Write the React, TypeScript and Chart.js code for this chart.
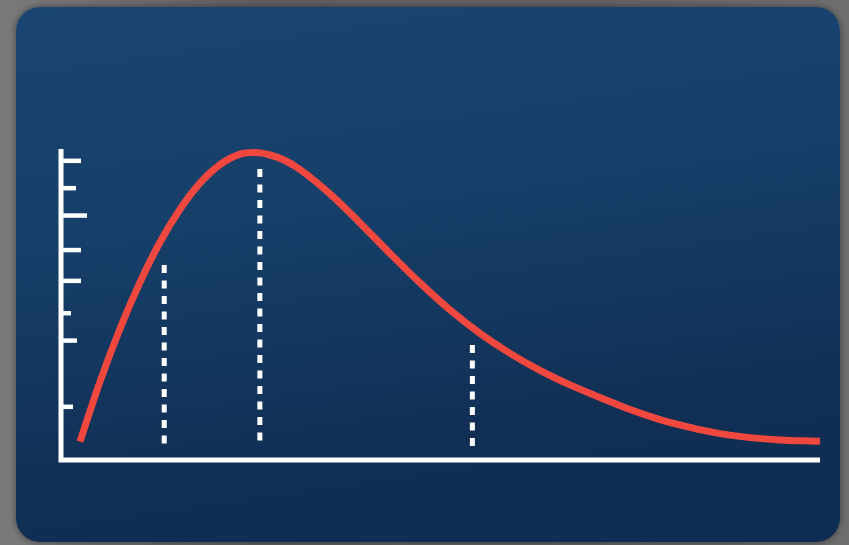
import React, { useEffect, useRef } from "react";
import { Chart, registerables } from "chart.js";

Chart.register(...registerables);

// Skewed distribution curve (x: 0-100 along the axis, y: 0-100 up the axis)
const curveX = [2.5, 5.14, 7.77, 10.41, 13.04, 15.68, 18.31, 20.95, 23.58, 25.56, 27.54, 29.51, 31.49, 35.44, 39.39, 43.35, 47.3, 51.25, 55.2, 59.16, 63.11, 67.06, 71.01, 74.97, 78.92, 82.87, 86.82, 90.78, 94.73, 98.68, 100];
const curveY = [5.88, 25.18, 42.22, 57.17, 70.03, 80.64, 89.0, 94.95, 98.33, 98.84, 98.07, 96.3, 93.41, 85.56, 76.24, 66.43, 56.95, 48.26, 40.71, 34.28, 28.81, 24.15, 20.13, 16.21, 12.99, 10.48, 8.49, 7.2, 6.43, 6.11, 6.05];

// Dashed marker lines
const markerX = [13.6, 26.2, 54.2];
const markerTop = [62.7, 93.6, 37.0];
const markerBottom = 4.2;

// Y-axis tick positions
const yTickValues = [96.2, 87.4, 78.6, 67.5, 57.6, 47.2, 38.4, 17.1];

// styles
const TICK_LENGTHS = [20, 15, 26, 20, 20, 10, 16, 12];
const RED = "#f0483f";
const WHITE = "#ffffff";

const axesPlugin = {
  id: "customAxes",
  beforeDatasetsDraw(chart: any) {
    const { ctx, scales } = chart;
    const xs = scales.x;
    const ys = scales.y;
    const x0 = xs.getPixelForValue(0);
    const x1 = xs.getPixelForValue(100);
    const y0 = ys.getPixelForValue(0);
    const y1 = ys.getPixelForValue(100);
    ctx.save();
    ctx.strokeStyle = WHITE;
    ctx.lineCap = "butt";
    ctx.lineWidth = 5;
    ctx.beginPath();
    ctx.moveTo(x0, y1);
    ctx.lineTo(x0, y0 + 2.5);
    ctx.moveTo(x0 - 2.5, y0);
    ctx.lineTo(x1, y0);
    ctx.stroke();
    ctx.lineWidth = 4.5;
    yTickValues.forEach((v, i) => {
      const py = ys.getPixelForValue(v);
      ctx.beginPath();
      ctx.moveTo(x0, py);
      ctx.lineTo(x0 + TICK_LENGTHS[i], py);
      ctx.stroke();
    });
    ctx.restore();
  },
};

export default function App() {
  const canvasRef = useRef<HTMLCanvasElement | null>(null);

  useEffect(() => {
    if (!canvasRef.current) return;
    const markerSets = markerX.map((mx, i) => ({
      type: "line" as const,
      data: [
        { x: mx, y: markerTop[i] },
        { x: mx, y: markerBottom },
      ],
      borderColor: WHITE,
      borderWidth: 5,
      borderDash: [8, 7.5],
      borderCapStyle: "butt" as const,
      pointRadius: 0,
      tension: 0,
      clip: false as any,
      order: 2,
    }));
    const chart = new Chart(canvasRef.current, {
      type: "line",
      data: {
        datasets: [
          {
            data: curveX.map((x, i) => ({ x, y: curveY[i] })),
            borderColor: RED,
            borderWidth: 7,
            borderCapStyle: "butt",
            borderJoinStyle: "round",
            pointRadius: 0,
            tension: 0.4,
            cubicInterpolationMode: "monotone",
            clip: false as any,
            order: 1,
          },
          ...markerSets,
        ] as any,
      },
      options: {
        animation: false,
        responsive: false,
        layout: { padding: { left: 61, right: 29, top: 149, bottom: 85 } },
        scales: {
          x: { type: "linear", min: 0, max: 100, display: false },
          y: { type: "linear", min: 0, max: 100, display: false },
        },
        plugins: {
          legend: { display: false },
          tooltip: { enabled: false },
        },
        events: [],
      },
      plugins: [axesPlugin],
    });
    return () => chart.destroy();
  }, []);

  return (
    <div
      style={{
        position: "fixed",
        left: 0,
        top: 0,
        width: 849,
        height: 545,
        overflow: "hidden",
        background: "linear-gradient(90deg, #7a7a7a 0%, #5f5f5f 30%, #626262 70%, #6e6e6e 100%)",
      }}
    >
      <div
        style={{
          position: "absolute",
          left: 16,
          top: 7,
          width: 824,
          height: 535,
          borderRadius: 24,
          background: "linear-gradient(172deg, #1b4571 0%, #16406a 35%, #112f55 75%, #0f2d52 100%)",
          boxShadow: "0 0 6px rgba(0,0,0,0.45)",
        }}
      />
      <canvas
        ref={canvasRef}
        width={849}
        height={545}
        style={{ position: "absolute", left: 0, top: 0, width: 849, height: 545 }}
      />
    </div>
  );
}
